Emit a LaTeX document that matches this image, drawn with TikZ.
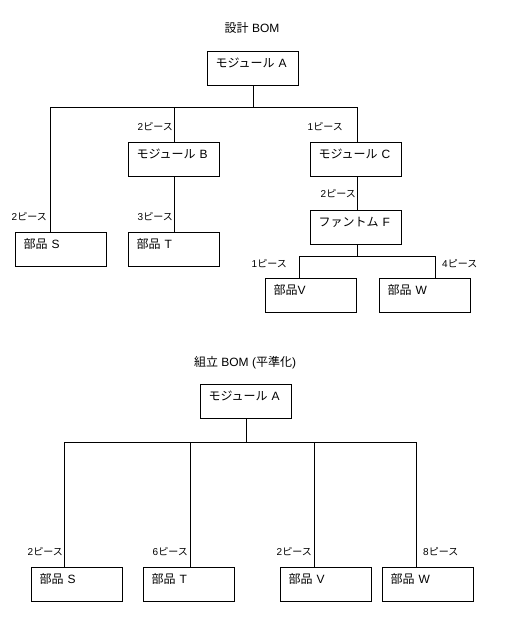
\documentclass[tikz,border=0pt]{standalone}
\usepackage{fontspec}
\setmainfont{Liberation Sans}
\newfontfamily\jafont{Noto Sans CJK JP}
\newcommand{\ja}[1]{{\jafont #1}}
\usetikzlibrary{positioning,calc}

\begin{document}
\begin{tikzpicture}[
  x=1pt,y=-1pt,
  box/.style={draw,line width=1pt,anchor=north west,text width=75pt,align=left,
              inner xsep=8pt,inner ysep=4pt,text height=12pt,text depth=14pt,
              font=\fontsize{12}{14}\selectfont},
  qty/.style={inner sep=0pt,font=\fontsize{10}{12}\selectfont},
  ttl/.style={font=\fontsize{12}{14}\selectfont},
  link/.style={line width=1pt}
]
\useasboundingbox (0,0) rectangle (512,617);

% design BOM
\node[ttl] (dtitle) at (252,28) {\ja{設計} BOM};
\node[box] (dA) at (207,51) {\ja{モジュール} A};
\node[box] (dB) at (128,142) {\ja{モジュール} B};
\node[box] (dC) at (310,142) {\ja{モジュール} C};
\node[box] (dS) at (15,232) {\ja{部品} S};
\node[box] (dT) at (128,232) {\ja{部品} T};
\node[box] (dF) at (310,210) {\ja{ファントム} F};
\node[box] (dV) at (265,278) {\ja{部品}V};
\node[box] (dW) at (379,278) {\ja{部品} W};
\draw[link] (dA.south) -- ++(0,22) coordinate (dbus);
\draw[link] (dbus) -| ([xshift=35pt]dS.north west);
\draw[link] (dbus) -| (dB.north);
\draw[link] (dbus) -| ([xshift=47pt]dC.north west);
\draw[link] (dB.south) -- (dT.north);
\draw[link] ([xshift=47pt]dC.south west) -- ([xshift=47pt]dF.north west);
\draw[link] ([xshift=47pt]dF.south west) -- ++(0,11) coordinate (fbus);
\draw[link] (fbus) -| ([xshift=34pt]dV.north west);
\draw[link] (fbus) -| ([xshift=56pt]dW.north west);
\node[qty,anchor=east] (qdS) at ([xshift=32pt,yshift=15pt]dS.north west) {2\ja{ピース}};
\node[qty,anchor=east] (qdB) at ([xshift=45pt,yshift=15pt]dB.north west) {2\ja{ピース}};
\node[qty,anchor=east] (qdC) at ([xshift=33pt,yshift=15pt]dC.north west) {1\ja{ピース}};
\node[qty,anchor=east] (qdT) at ([xshift=45pt,yshift=15pt]dT.north west) {3\ja{ピース}};
\node[qty,anchor=east] (qdF) at ([xshift=46pt,yshift=16pt]dF.north west) {2\ja{ピース}};
\node[qty,anchor=east] (qdV) at ([xshift=22pt,yshift=14pt]dV.north west) {1\ja{ピース}};
\node[qty,anchor=west] (qdW) at ([xshift=63pt,yshift=14pt]dW.north west) {4\ja{ピース}};

% assembly BOM
\node[ttl] (atitle) at (245,363) {\ja{組立} BOM (\ja{平準化})};
\node[box] (aA) at (200,384) {\ja{モジュール} A};
\node[box] (aS) at (31,567) {\ja{部品} S};
\node[box] (aT) at (143,567) {\ja{部品} T};
\node[box] (aV) at (280,567) {\ja{部品} V};
\node[box] (aW) at (382,567) {\ja{部品} W};
\draw[link] (aA.south) -- ++(0,23) coordinate (abus);
\draw[link] (abus) -| ([xshift=33pt]aS.north west);
\draw[link] (abus) -| ([xshift=47pt]aT.north west);
\draw[link] (abus) -| ([xshift=34pt]aV.north west);
\draw[link] (abus) -| ([xshift=34pt]aW.north west);
\node[qty,anchor=east] (qaS) at ([xshift=32pt,yshift=15pt]aS.north west) {2\ja{ピース}};
\node[qty,anchor=east] (qaT) at ([xshift=45pt,yshift=15pt]aT.north west) {6\ja{ピース}};
\node[qty,anchor=east] (qaV) at ([xshift=32pt,yshift=15pt]aV.north west) {2\ja{ピース}};
\node[qty,anchor=west] (qaW) at ([xshift=41pt,yshift=15pt]aW.north west) {8\ja{ピース}};
\end{tikzpicture}
\end{document}
